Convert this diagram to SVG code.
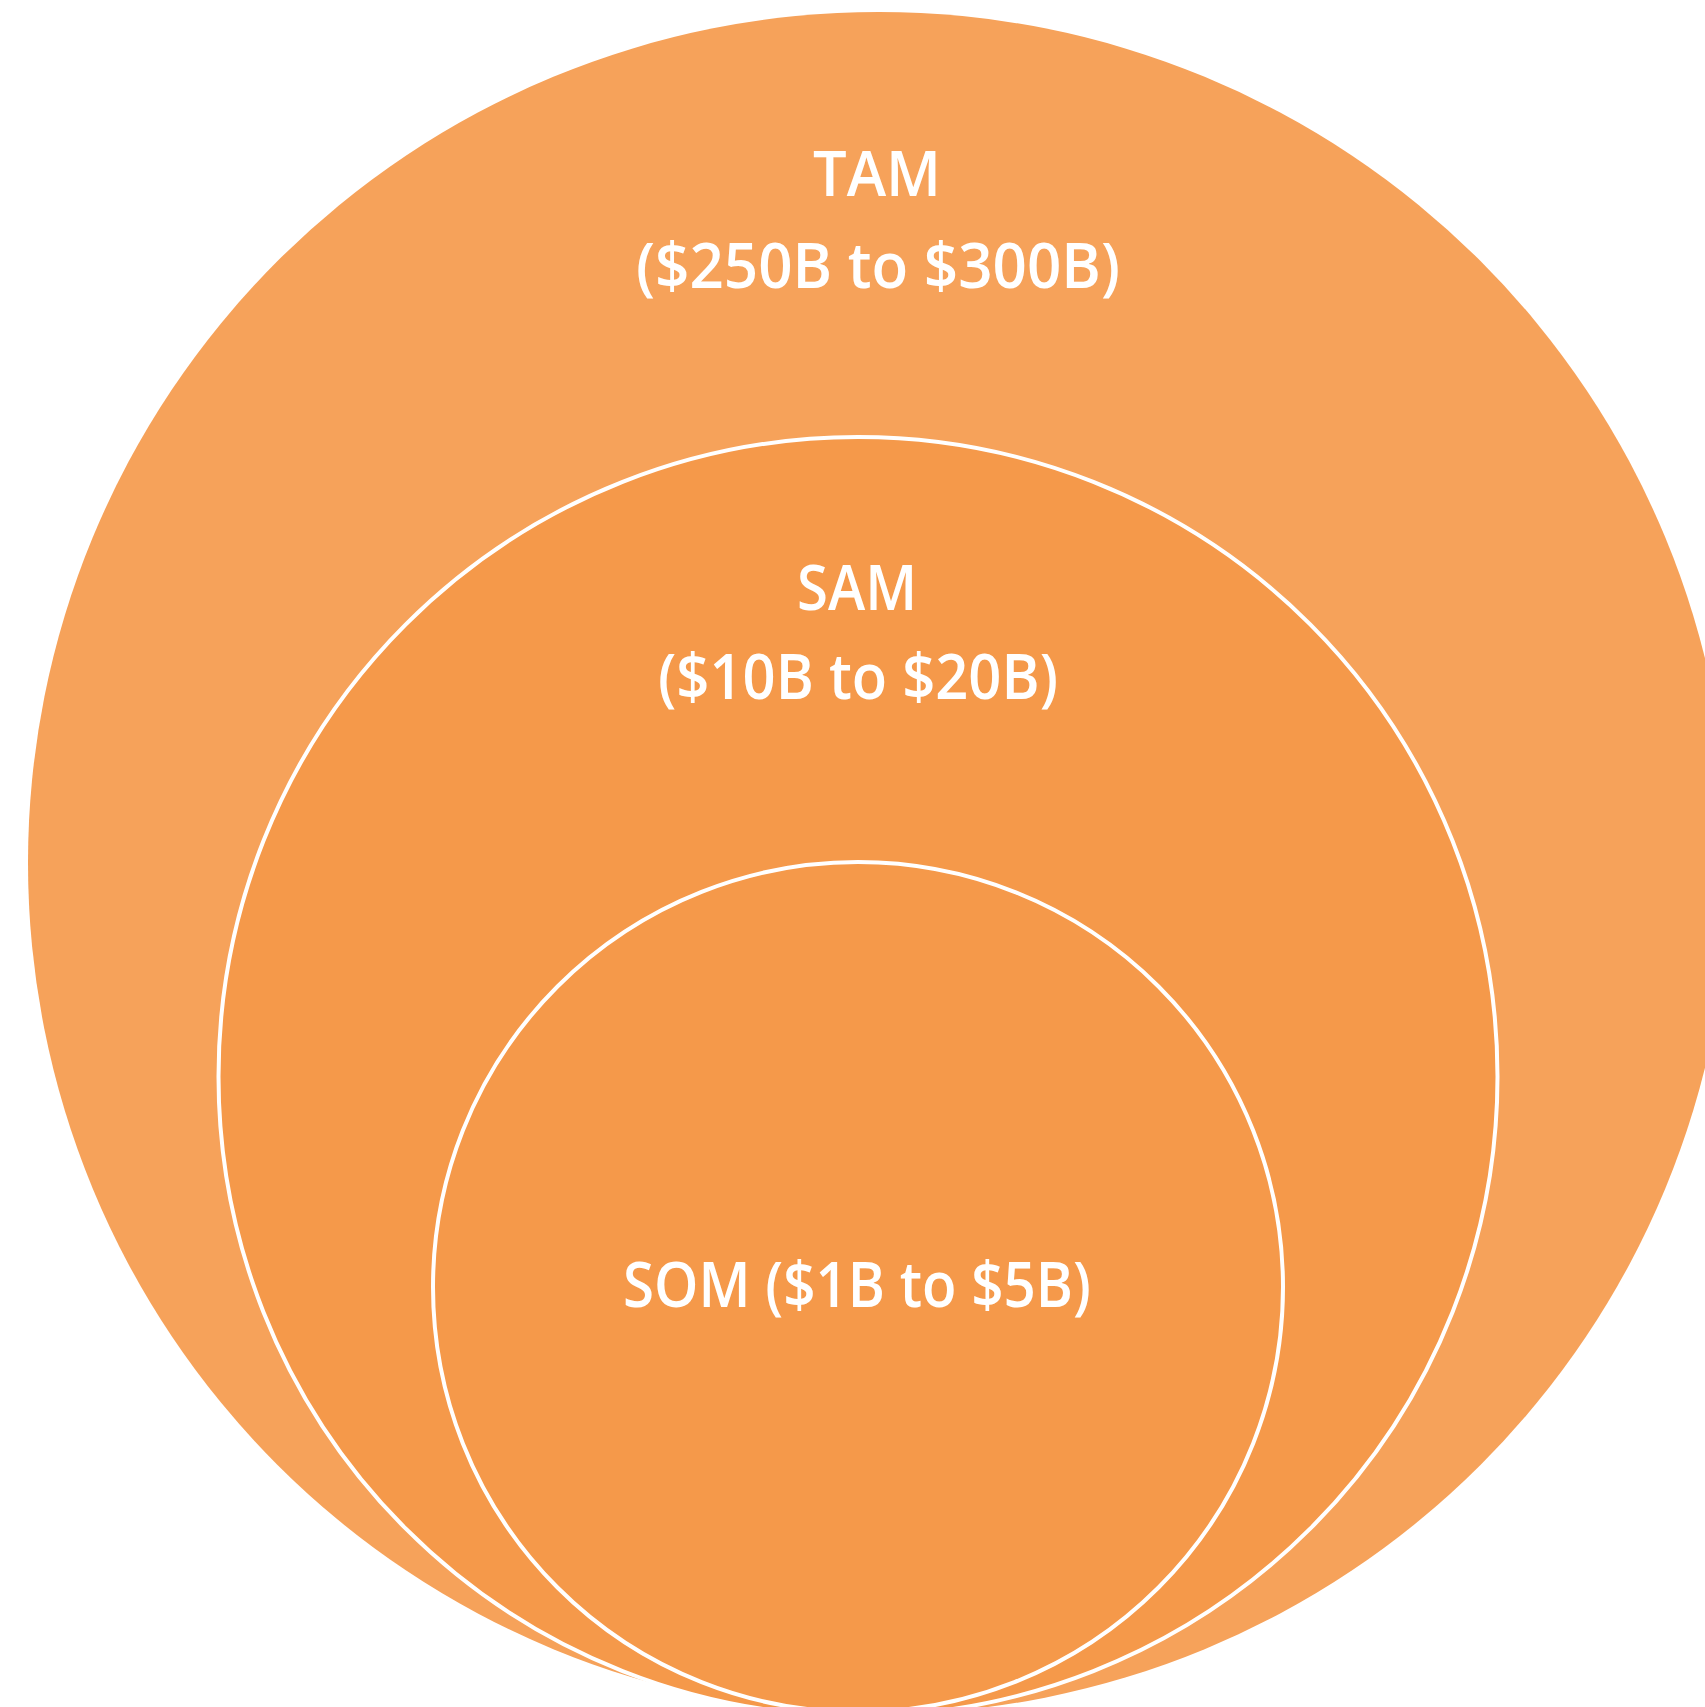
<svg xmlns="http://www.w3.org/2000/svg" width="1705" height="1707" viewBox="0 0 1705 1707">
  <style>
    .lbl { font-family: "Open Sans", "Liberation Sans", sans-serif; font-size: 63px; font-weight: 600; fill: #FFFFFF; text-anchor: middle; }
    .tam { fill: #F6A25A; }
    .inner { fill: #F5994A; stroke: #FFFFFF; stroke-width: 4; }
  </style>
  <rect x="0" y="0" width="1705" height="1707" fill="#FFFFFF"/>
  <g id="tam">
    <circle class="tam" cx="879" cy="863" r="851"/>
    <text class="lbl" x="877" y="196" textLength="128" lengthAdjust="spacingAndGlyphs">TAM</text>
    <text class="lbl" x="878" y="288" textLength="484" lengthAdjust="spacingAndGlyphs">($250B to $300B)</text>
  </g>
  <g id="sam">
    <circle class="inner" cx="858" cy="1076.5" r="639.5"/>
    <text class="lbl" x="857" y="610" textLength="120" lengthAdjust="spacingAndGlyphs">SAM</text>
    <text class="lbl" x="858" y="699" textLength="400" lengthAdjust="spacingAndGlyphs">($10B to $20B)</text>
  </g>
  <g id="som">
    <circle class="inner" cx="858" cy="1287" r="425"/>
    <text class="lbl" x="857" y="1307" textLength="468" lengthAdjust="spacingAndGlyphs">SOM ($1B to $5B)</text>
  </g>
  <g id="connectors"/>
</svg>
